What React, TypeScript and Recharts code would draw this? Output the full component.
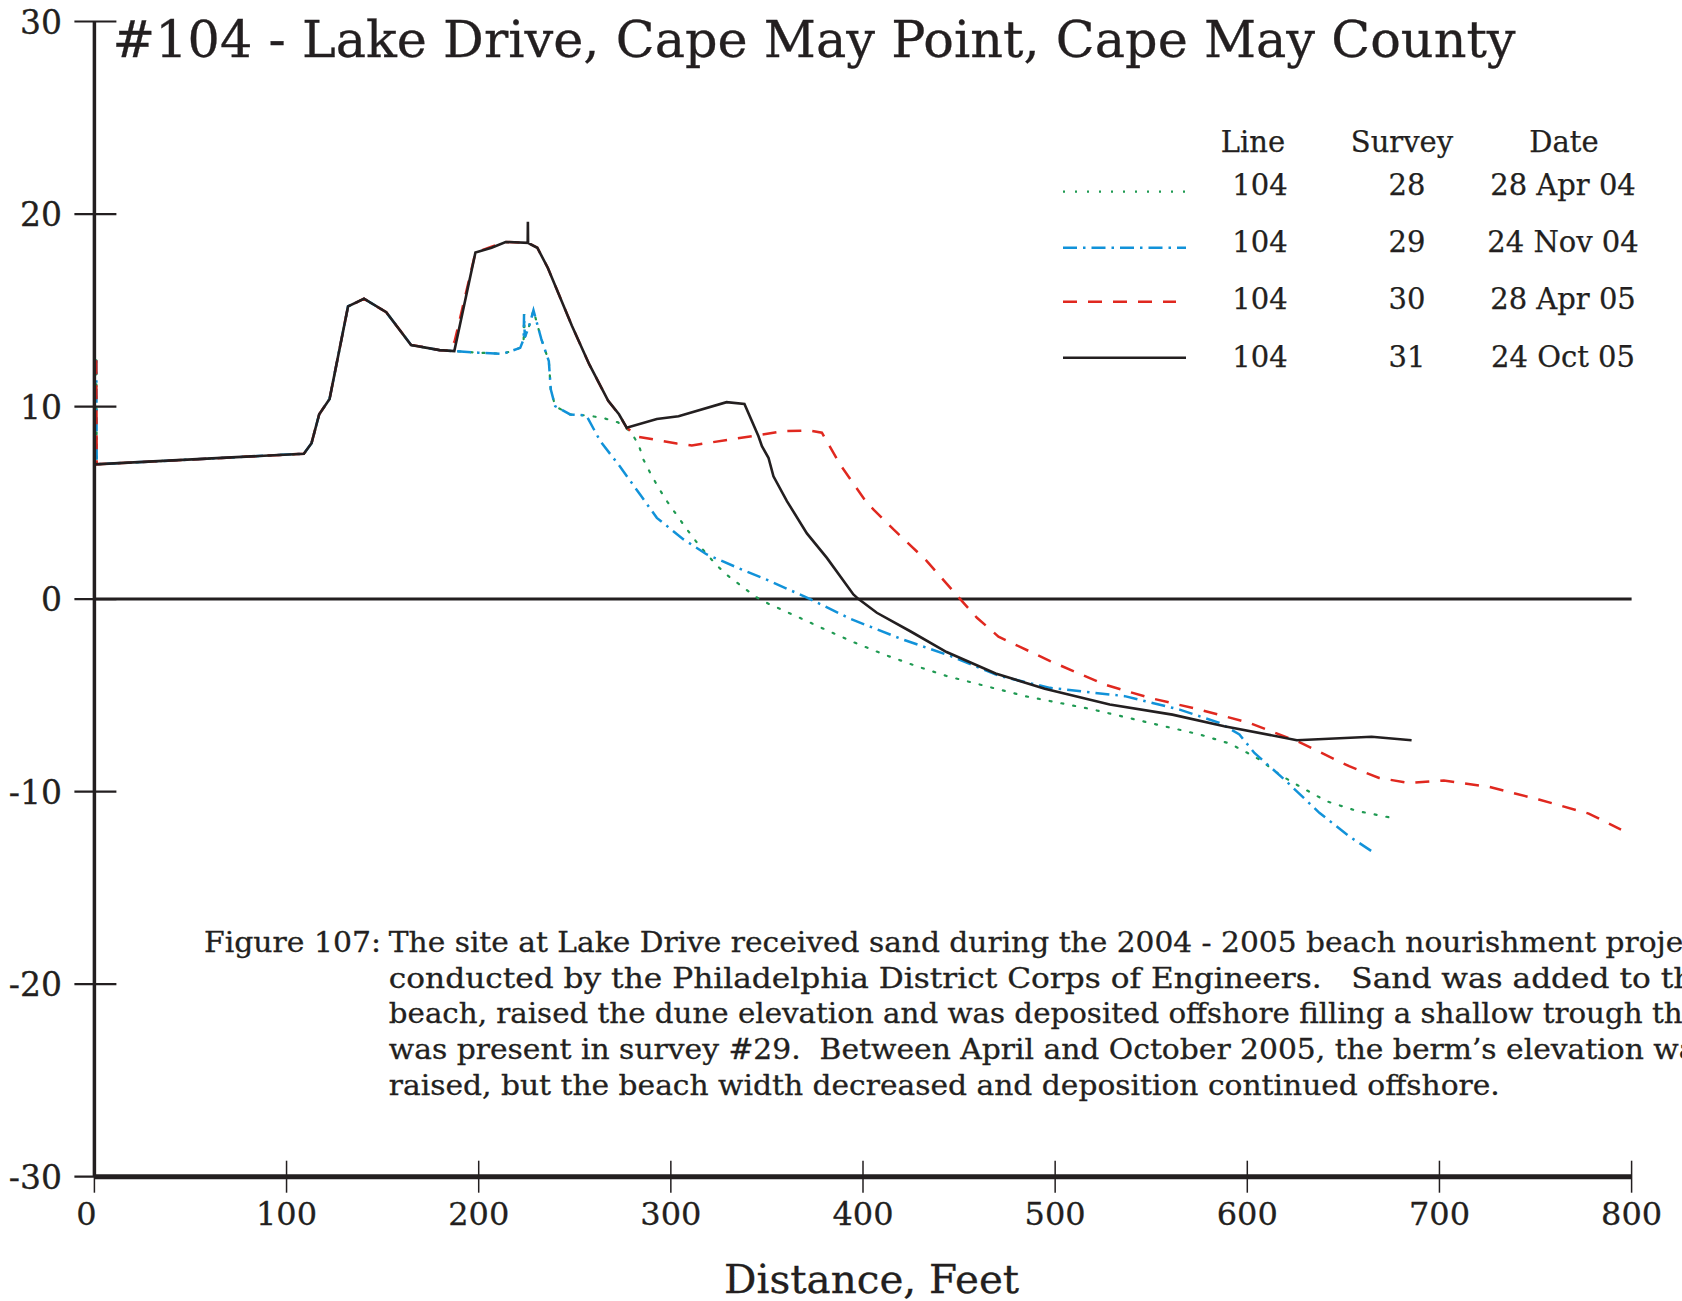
import React from "react";
import { LineChart, Line, XAxis, YAxis, ReferenceLine, Legend } from "recharts";

const FONT = '"DejaVu Serif", "Liberation Serif", serif';
const INK = "#231f20";

// axis ticks
const xTicks = [0, 100, 200, 300, 400, 500, 600, 700, 800];
const yTicks = [-30, -20, -10, 0, 10, 20, 30];

// legend table
const lineNos = ["104", "104", "104", "104"];
const surveyNos = ["28", "29", "30", "31"];
const surveyDates = ["28 Apr 04", "24 Nov 04", "28 Apr 05", "24 Oct 05"];

// survey 28 - 28 Apr 04
const dist28 = [1, 1.2, 109, 113, 117, 122.4, 132, 140.3, 151.9, 164.8, 179.7, 187.3, 199.7, 212.7, 221.6, 223.4, 223.6, 224, 226, 228.5, 232.6, 236.5, 237.5, 239.8, 247.6, 256, 264.3, 272.5, 279, 283.2, 285.7, 289.7, 293.6, 298.2, 303.1, 308, 313, 318.4, 323.9, 330, 337, 343.5, 350.8, 366.4, 381.2, 396.8, 412.4, 428, 443.7, 484.3, 518, 549.2, 575.2, 590.7, 598.5, 606.3, 616.7, 627.1, 641.3, 656.9, 675.1];
const elev28 = [12.4, 7.0, 7.55, 8.1, 9.6, 10.4, 15.2, 15.6, 14.9, 13.2, 12.93, 12.88, 12.8, 12.74, 13.05, 13.5, 14.8, 13.6, 14.1, 15.0, 13.5, 12.36, 10.9, 10.02, 9.59, 9.54, 9.42, 9.18, 8.7, 8.03, 7.25, 6.47, 5.78, 5.05, 4.36, 3.67, 3.01, 2.37, 1.75, 1.19, 0.67, 0.15, -0.24, -0.94, -1.62, -2.31, -2.93, -3.49, -4.0, -5.04, -5.7, -6.43, -7.03, -7.5, -7.9, -8.33, -9.11, -9.72, -10.5, -11.0, -11.36];

// survey 29 - 24 Nov 04
const dist29 = [1, 1.2, 109, 113, 117, 122.4, 132, 140.3, 151.9, 164.8, 179.7, 187.3, 199.7, 212.7, 221.6, 223.4, 223.6, 224, 226, 228.5, 232.6, 236.5, 237.5, 239.8, 247.6, 256, 263.3, 273.6, 284, 292.7, 306.6, 318.7, 336.1, 351.7, 372.5, 393.3, 419.4, 445.4, 471.3, 497.3, 536.2, 564.8, 585.5, 595.9, 603.7, 619.3, 637.5, 653, 666];
const elev29 = [12.4, 7.0, 7.55, 8.1, 9.6, 10.4, 15.2, 15.6, 14.9, 13.2, 12.93, 12.88, 12.8, 12.74, 13.05, 13.5, 14.8, 13.6, 14.1, 15.0, 13.5, 12.36, 10.9, 10.02, 9.59, 9.54, 8.2, 6.87, 5.43, 4.22, 3.1, 2.32, 1.57, 0.93, 0, -1.02, -2.05, -2.95, -4.0, -4.61, -5.04, -5.74, -6.43, -7.03, -7.99, -9.37, -11.1, -12.32, -13.18];

// survey 30 - 28 Apr 05
const dist30 = [1, 1.2, 109, 113, 117, 122.4, 132, 140.3, 151.9, 164.8, 179.7, 185, 187.5, 198.3, 206.7, 214, 225.6, 230.5, 236, 248.5, 257.5, 267.4, 273, 277, 283.1, 303.1, 310.9, 330.9, 344.8, 358.6, 371.6, 378.6, 388.1, 402, 405.5, 415.9, 433, 450.6, 459.3, 470.5, 497.4, 525.8, 549.2, 575.2, 601.1, 627.1, 653, 668.6, 684.2, 702.3, 725.7, 751.7, 777.7, 794.5];
const elev30 = [12.4, 7.0, 7.55, 8.1, 9.6, 10.4, 15.2, 15.6, 14.9, 13.2, 12.93, 12.9, 13.4, 18.0, 18.3, 18.55, 18.5, 18.25, 17.2, 14.2, 12.2, 10.3, 9.6, 8.9, 8.43, 8.08, 7.98, 8.29, 8.5, 8.72, 8.76, 8.64, 6.99, 5.0, 4.65, 3.62, 2.0, 0, -0.97, -1.95, -3.22, -4.44, -5.13, -5.74, -6.43, -7.43, -8.68, -9.29, -9.55, -9.42, -9.75, -10.41, -11.14, -11.97];

// survey 31 - 24 Oct 05
const dist31 = [0, 109, 113, 117, 122.4, 132, 140.3, 151.9, 164.8, 179.7, 187.3, 198.3, 206.7, 214, 225.5, 225.6, 225.7, 230.5, 236, 248.5, 257.5, 267.4, 273, 277, 292.7, 304, 329, 338.3, 345.6, 347.4, 350.8, 353.4, 360.4, 370.8, 381.2, 395, 397.7, 407.2, 424.6, 443.5, 469, 494.6, 528.4, 561, 588, 625.8, 664.7, 685.5];
const elev31 = [7.0, 7.55, 8.1, 9.6, 10.4, 15.2, 15.6, 14.9, 13.2, 12.93, 12.88, 18.0, 18.25, 18.55, 18.5, 19.6, 18.5, 18.25, 17.2, 14.2, 12.2, 10.3, 9.6, 8.9, 9.35, 9.5, 10.23, 10.14, 8.46, 7.94, 7.34, 6.38, 5.09, 3.41, 2.14, 0.24, 0, -0.71, -1.67, -2.75, -3.86, -4.66, -5.47, -6.0, -6.6, -7.33, -7.15, -7.33];

const toPoints = (d: number[], e: number[]) => d.map((x, i) => ({ x, y: e[i] }));

const series = [
  { key: "s28", data: toPoints(dist28, elev28), stroke: "#1f9a52", width: 2.2, dash: "2 10", cap: "round" },
  { key: "s29", data: toPoints(dist29, elev29), stroke: "#1192d9", width: 2.5, dash: "14 6 2.5 6" },
  { key: "s30", data: toPoints(dist30, elev30), stroke: "#e0281f", width: 2.5, dash: "14 11" },
  { key: "s31", data: toPoints(dist31, elev31), stroke: INK, width: 2.6, dash: undefined },
];

const captionLines = [
  "The site at Lake Drive received sand during the 2004 - 2005 beach nourishment project",
  "conducted by the Philadelphia District Corps of Engineers.   Sand was added to the",
  "beach, raised the dune elevation and was deposited offshore filling a shallow trough that",
  "was present in survey #29.  Between April and October 2005, the berm\u2019s elevation was",
  "raised, but the beach width decreased and deposition continued offshore.",
];

const XTick = (props: any) => {
  const { x, y, payload } = props;
  const dx = payload.value === 0 ? -8 : 0;
  return (
    <g>
      <line x1={x} x2={x} y1={y - 16} y2={y + 16} stroke={INK} strokeWidth={1.5} />
      <text x={x + dx} y={y + 48} textAnchor="middle" fontFamily={FONT} fontSize={32} fill={INK} stroke={INK} strokeWidth={0.3}>
        {payload.value}
      </text>
    </g>
  );
};

const YTick = (props: any) => {
  const { x, y, payload } = props;
  return (
    <g>
      <line x1={x - 20} x2={x + 22} y1={y} y2={y} stroke={INK} strokeWidth={2.2} />
      <text x={x - 32.4} y={y + 12} textAnchor="end" fontFamily={FONT} fontSize={33} fill={INK} stroke={INK} strokeWidth={0.3}>
        {payload.value}
      </text>
    </g>
  );
};

const LegendTable = () => {
  const baselines = [195, 251.7, 309.3, 366.7];
  const sampleY = [191.7, 247.7, 301.7, 357.7];
  const ox = 1040;
  const oy = 100;
  return (
    <svg width={640} height={290} style={{ display: "block" }}>
      <g fontFamily={FONT} fontSize={29} fill={INK} stroke={INK} strokeWidth={0.25} textAnchor="middle">
        <text x={1253 - ox} y={151.7 - oy}>Line</text>
        <text x={1402 - ox} y={151.7 - oy}>Survey</text>
        <text x={1564 - ox} y={151.7 - oy}>Date</text>
        {series.map((s, i) => (
          <g key={s.key}>
            <line
              x1={1063 - ox}
              x2={(s.key === "s30" ? 1176 : 1186) - ox}
              y1={sampleY[i] - oy}
              y2={sampleY[i] - oy}
              stroke={s.stroke}
              strokeWidth={s.width}
              strokeDasharray={s.dash}
            />
            <text x={1260 - ox} y={baselines[i] - oy}>{lineNos[i]}</text>
            <text x={1407 - ox} y={baselines[i] - oy}>{surveyNos[i]}</text>
            <text x={1563 - ox} y={baselines[i] - oy}>{surveyDates[i]}</text>
          </g>
        ))}
      </g>
    </svg>
  );
};

export default function App() {
  return (
    <div style={{ position: "absolute", left: 0, top: 0, width: 1682, height: 1301, background: "#fff" }}>
      <LineChart width={1682} height={1301} margin={{ top: 21.5, right: 50.4, bottom: 0, left: 0 }}>
        <XAxis
          type="number"
          dataKey="x"
          domain={[0, 800]}
          ticks={xTicks}
          height={124.3}
          tickSize={0}
          tickMargin={0}
          tickLine={false}
          axisLine={{ stroke: INK, strokeWidth: 5 }}
          tick={<XTick />}
          interval={0}
        />
        <YAxis
          type="number"
          domain={[-30, 30]}
          ticks={yTicks}
          width={94.4}
          tickSize={0}
          tickMargin={0}
          tickLine={false}
          axisLine={{ stroke: INK, strokeWidth: 3.5 }}
          tick={<YTick />}
          interval={0}
        />
        <ReferenceLine y={0} stroke={INK} strokeWidth={3} />
        {series.map((s) => (
          <Line
            key={s.key}
            data={s.data}
            dataKey="y"
            type="linear"
            stroke={s.stroke}
            strokeWidth={s.width}
            strokeDasharray={s.dash}
            strokeLinecap={s.cap as any}
            dot={false}
            activeDot={false}
            isAnimationActive={false}
          />
        ))}
        <Legend
          layout="horizontal"
          verticalAlign="middle"
          align="center"
          wrapperStyle={{ left: 1040, top: 100, width: 640, height: 290 }}
          content={() => <LegendTable />}
        />
      </LineChart>
      <svg
        width={1682}
        height={1301}
        style={{ position: "absolute", left: 0, top: 0, pointerEvents: "none" }}
      >
        <g fontFamily={FONT} fill={INK} stroke={INK} strokeWidth={0.3}>
          <text x={112.6} y={57.3} fontSize={50} textLength={1403} lengthAdjust="spacingAndGlyphs">
            #104 - Lake Drive, Cape May Point, Cape May County
          </text>
          <text x={871.6} y={1292.7} fontSize={40} textAnchor="middle" textLength={295} lengthAdjust="spacingAndGlyphs">
            Distance, Feet
          </text>
          <text x={204} y={951.7} fontSize={27.5} textLength={177} lengthAdjust="spacingAndGlyphs">
            Figure 107:
          </text>
          {captionLines.map((t, i) => (
            <text
              key={i}
              x={388.8}
              y={951.7 + i * 35.8}
              fontSize={27.5}
              textLength={i < 4 ? 1323 : 1111}
              lengthAdjust="spacingAndGlyphs"
              style={{ whiteSpace: "pre" }}
            >
              {t}
            </text>
          ))}
        </g>
      </svg>
    </div>
  );
}
